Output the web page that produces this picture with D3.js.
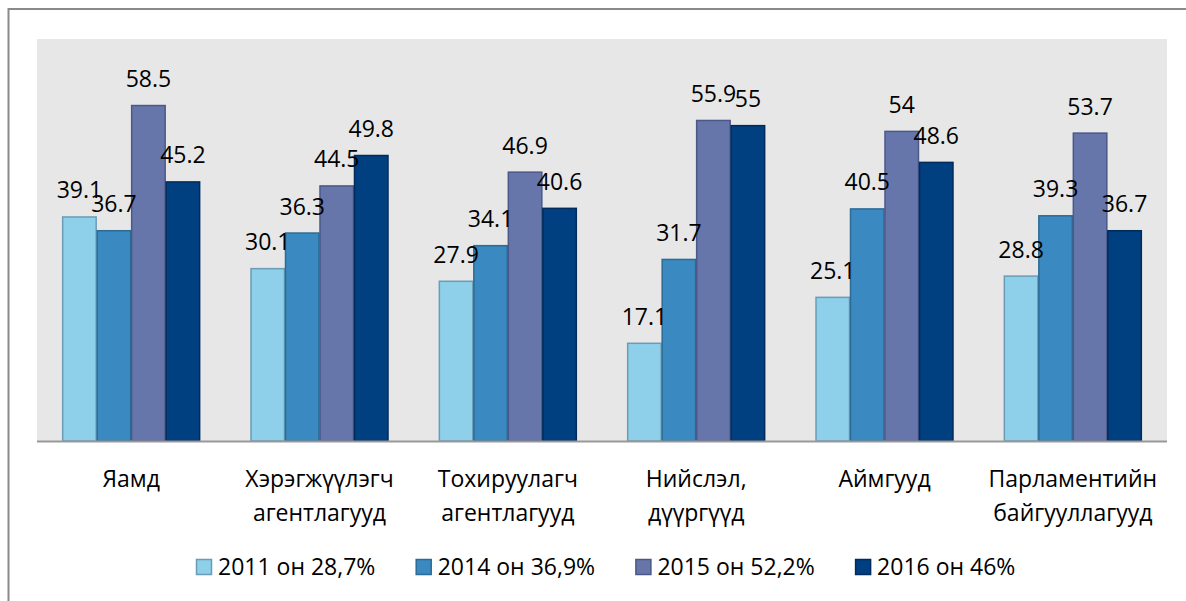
<!DOCTYPE html>
<html>
<head>
<meta charset="utf-8">
<script src="https://cdn.jsdelivr.net/npm/d3@7"></script>
<style>
  body { margin: 0; background: #fff; }
  text { font-family: "Open Sans", "Noto Sans", sans-serif; fill: #000; }
</style>
</head>
<body>
<script>
// categories (multi-line labels split on |)
const categories = ['Яамд', 'Хэрэгжүүлэгч|агентлагууд', 'Тохируулагч|агентлагууд',
                    'Нийслэл,|дүүргүүд', 'Аймгууд', 'Парламентийн|байгууллагууд'];
const seriesNames = ['2011 он 28,7%', '2014 он 36,9%', '2015 он 52,2%', '2016 он 46%'];
const v2011 = [39.1, 30.1, 27.9, 17.1, 25.1, 28.8];
const v2014 = [36.7, 36.3, 34.1, 31.7, 40.5, 39.3];
const v2015 = [58.5, 44.5, 46.9, 55.9, 54, 53.7];
const v2016 = [45.2, 49.8, 40.6, 55, 48.6, 36.7];
const series = [v2011, v2014, v2015, v2016];

const fills = ['#8ecfea', '#3a89c0', '#6776aa', '#003f80'];
const strokes = ['#6a9db5', '#2b6b96', '#4b5888', '#002b5c'];

const WIDTH = 1186, HEIGHT = 601;
const plot = {left: 37, right: 1167, top: 39, bottom: 441};

const svg = d3.select('body').append('svg')
  .attr('width', WIDTH).attr('height', HEIGHT);

// outer frame (only left and top edges visible)
svg.append('path')
  .attr('d', 'M8.5,601 V9 H1186')
  .attr('fill', 'none').attr('stroke', '#8a8a8a').attr('stroke-width', 2);

svg.append('rect')
  .attr('x', plot.left).attr('y', plot.top)
  .attr('width', plot.right - plot.left).attr('height', plot.bottom - plot.top)
  .attr('fill', '#e7e7e7');

const x0 = d3.scaleBand().domain(d3.range(categories.length))
  .range([plot.left, plot.right]).paddingInner(0).paddingOuter(0);
const x1 = d3.scaleBand().domain(d3.range(series.length))
  .range([0, x0.bandwidth()]).paddingOuter(0.73).paddingInner(0);
const y = d3.scaleLinear().domain([0, 70]).range([plot.bottom, plot.top]);

const groups = svg.selectAll('g.grp')
  .data(categories).enter().append('g')
  .attr('class', 'grp')
  .attr('transform', (d, i) => `translate(${x0(i)},0)`);

series.forEach((vals, s) => {
  groups.append('rect')
    .attr('x', (d, i) => x1(s) + 0.5)
    .attr('y', (d, i) => y(vals[i]) + 0.5)
    .attr('width', x1.bandwidth() - 1)
    .attr('height', (d, i) => y(0) - y(vals[i]) - 0.5)
    .attr('fill', fills[s])
    .attr('stroke', strokes[s])
    .attr('stroke-width', 1.5);
});

series.forEach((vals, s) => {
  groups.append('text')
    .attr('x', x1(s) + x1.bandwidth() / 2)
    .attr('y', (d, i) => y(vals[i]) - 18)
    .attr('text-anchor', 'middle')
    .attr('font-size', 23)
    .text((d, i) => vals[i]);
});

// axis line
svg.append('line')
  .attr('x1', plot.left).attr('x2', plot.right)
  .attr('y1', plot.bottom + 0.5).attr('y2', plot.bottom + 0.5)
  .attr('stroke', '#999').attr('stroke-width', 2);

// category labels
groups.append('text')
  .attr('x', x0.bandwidth() / 2)
  .attr('y', 487)
  .attr('text-anchor', 'middle')
  .attr('font-size', 23)
  .each(function(d) {
    d.split('|').forEach((line, k) => {
      d3.select(this).append('tspan')
        .attr('x', x0.bandwidth() / 2)
        .attr('dy', k === 0 ? 0 : 34)
        .text(line);
    });
  });

// legend
const legend = svg.selectAll('g.leg')
  .data(seriesNames).enter().append('g')
  .attr('class', 'leg')
  .attr('transform', (d, i) => `translate(${196 + i * 219.7},0)`);

legend.append('rect')
  .attr('x', 0.5).attr('y', 559.5).attr('width', 15).attr('height', 15)
  .attr('fill', (d, i) => fills[i])
  .attr('stroke', (d, i) => strokes[i]).attr('stroke-width', 1.5);

legend.append('text')
  .attr('x', 22).attr('y', 575)
  .attr('font-size', 23)
  .text(d => d);
</script>
</body>
</html>
